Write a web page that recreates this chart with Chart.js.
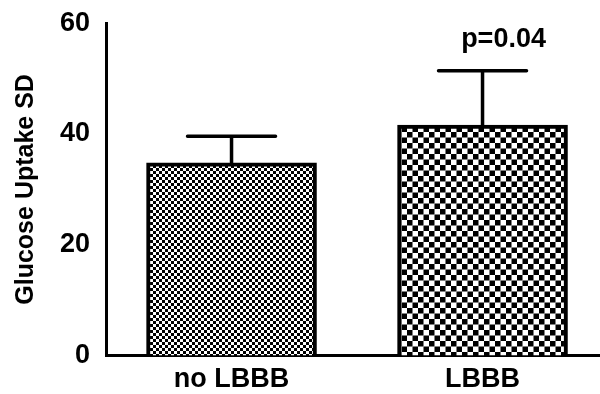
<!DOCTYPE html>
<html>
<head>
<meta charset="utf-8">
<script src="https://cdn.jsdelivr.net/npm/chart.js@4"></script>
<style>
  body { margin: 0; background: #fff; overflow: hidden; }
  #wrap { width: 600px; height: 394px; }
</style>
</head>
<body>
<div id="wrap"><canvas id="myChart"></canvas></div>
<script>
var categories = ['no LBBB', 'LBBB'];
var means = [34.8, 41.6];
var errUp = [4.8, 9.8];
var yTicks = [0, 20, 40, 60];
var pLabel = 'p=0.04';
var checkSizes = [3, 5.5];

function checker(size) {
    var c = document.createElement('canvas');
    var n = Math.round(size * 2);
    c.width = n; c.height = n;
    var g = c.getContext('2d');
    g.fillStyle = '#fff';
    g.fillRect(0, 0, n, n);
    g.fillStyle = '#000';
    g.fillRect(0, 0, n / 2, n / 2);
    g.fillRect(n / 2, n / 2, n / 2, n / 2);
    return g.createPattern(c, 'repeat');
}

var errorBars = {
    id: 'errorBars',
    afterDatasetsDraw: function (chart) {
        var ctx = chart.ctx;
        var xs = chart.scales.x, ys = chart.scales.y;
        ctx.save();
        ctx.strokeStyle = '#000';
        ctx.lineWidth = 3.5;
        ctx.lineCap = 'round';
        for (var i = 0; i < means.length; i++) {
            var x = xs.getPixelForValue(i);
            var y0 = ys.getPixelForValue(means[i]);
            var y1 = ys.getPixelForValue(means[i] + errUp[i]);
            ctx.beginPath();
            ctx.moveTo(x, y0);
            ctx.lineTo(x, y1);
            ctx.moveTo(x - 44, y1);
            ctx.lineTo(x + 44, y1);
            ctx.stroke();
        }
        // p value over the second bar
        ctx.fillStyle = '#000';
        ctx.font = 'bold 27px "Liberation Sans", Arial, sans-serif';
        ctx.textAlign = 'center';
        ctx.textBaseline = 'middle';
        ctx.fillText(pLabel, xs.getPixelForValue(1) + 21, ys.getPixelForValue(57.0));
        ctx.restore();
    }
};

const ctx = document.getElementById('myChart');
new Chart(ctx, {
    type: 'bar',
    data: {
        datasets: [{
            data: means.map(function (v, i) { return { x: i, y: v }; }),
            backgroundColor: checkSizes.map(checker),
            borderColor: '#000',
            borderWidth: 4,
            borderSkipped: 'bottom',
            barThickness: 170
        }]
    },
    plugins: [errorBars],
    options: {
        responsive: true,
        maintainAspectRatio: false,
        animation: false,
        layout: { padding: { top: 10, right: 0, left: 11, bottom: -2 } },
        plugins: { legend: { display: false }, tooltip: { enabled: false } },
        scales: {
            x: {
                type: 'linear',
                offset: false,
                min: -0.5,
                max: 1.468,
                grid: { display: false, drawTicks: true, tickLength: 8, tickWidth: 2.5, tickColor: '#000' },
                border: { color: '#000', width: 3 },
                afterBuildTicks: function (axis) {
                    axis.ticks = categories.map(function (c, i) { return { value: i }; });
                },
                ticks: {
                    color: '#000',
                    padding: 0,
                    maxRotation: 0,
                    font: { family: '"Liberation Sans", Arial, sans-serif', size: 27, weight: 'bold' },
                    callback: function (v) { return categories[v]; }
                }
            },
            y: {
                min: 0,
                max: 60,
                afterBuildTicks: function (axis) {
                    axis.ticks = yTicks.map(function (v) { return { value: v }; });
                },
                grid: { display: false, drawTicks: true, tickLength: 9, tickWidth: 2.5, tickColor: '#000' },
                border: { color: '#000', width: 3 },
                title: {
                    display: true,
                    text: 'Glucose Uptake SD',
                    color: '#000',
                    padding: { top: 0, bottom: 12 },
                    font: { family: '"Liberation Sans", Arial, sans-serif', size: 25, weight: 'bold' }
                },
                ticks: {
                    color: '#000',
                    padding: 7,
                    font: { family: '"Liberation Sans", Arial, sans-serif', size: 27, weight: 'bold' }
                }
            }
        }
    }
});
</script>
</body>
</html>
